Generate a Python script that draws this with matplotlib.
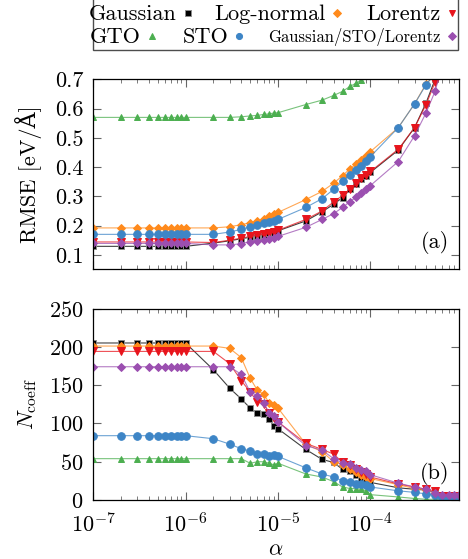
"""Fitting error and coefficient count versus regularisation alpha."""

import matplotlib
matplotlib.use("Agg")
import matplotlib.pyplot as plt
from matplotlib.lines import Line2D
from matplotlib.patches import Rectangle
from matplotlib.ticker import LogLocator, NullFormatter

plt.rcParams["font.family"] = ["cmr10", "DejaVu Serif"]
plt.rcParams["mathtext.fontset"] = "cm"
plt.rcParams["axes.formatter.use_mathtext"] = True
plt.rcParams["font.size"] = 16

W, H = 468, 559

# regularisation parameter
alpha = [1e-7, 2e-7, 3e-7, 4e-7, 5e-7, 6e-7, 7e-7, 8e-7, 9e-7,
         1e-6, 2e-6, 3e-6, 4e-6, 5e-6, 6e-6, 7e-6, 8e-6, 9e-6,
         1e-5, 2e-5, 3e-5, 4e-5, 5e-5, 6e-5, 7e-5, 8e-5, 9e-5,
         1e-4, 2e-4, 3e-4, 4e-4, 5e-4, 6e-4, 7e-4, 8e-4, 9e-4]

# (a) RMSE [eV/A]
rmse_gauss = [0.129] * 10 + [0.140, 0.148, 0.155, 0.160, 0.165, 0.168, 0.173, 0.176,
                             0.182, 0.216, 0.247, 0.273, 0.296, 0.324, 0.343, 0.360,
                             0.371, 0.382, 0.458, 0.535, 0.620, 0.700, 0.780]
rmse_lognorm = [0.192] * 10 + [0.192, 0.196, 0.203, 0.210, 0.215, 0.224, 0.232, 0.239,
                               0.245, 0.289, 0.317, 0.345, 0.371, 0.394, 0.411, 0.424,
                               0.437, 0.453, 0.535, 0.616, 0.685, 0.715]
rmse_lorentz = [0.144] * 10 + [0.142, 0.150, 0.157, 0.163, 0.167, 0.170, 0.175, 0.178,
                               0.184, 0.221, 0.250, 0.281, 0.303, 0.326, 0.346, 0.362,
                               0.374, 0.385, 0.461, 0.535, 0.614, 0.690, 0.770]
rmse_gto = [0.570] * 10 + [0.570, 0.570, 0.572, 0.575, 0.577, 0.580, 0.582, 0.585,
                           0.586, 0.614, 0.629, 0.645, 0.659, 0.676, 0.687, 0.698, 0.712]
rmse_sto = [0.170] * 10 + [0.170, 0.178, 0.187, 0.196, 0.203, 0.208, 0.212, 0.216,
                           0.221, 0.262, 0.292, 0.324, 0.351, 0.374, 0.390, 0.405,
                           0.422, 0.436, 0.535, 0.616, 0.682, 0.720]
rmse_mixed = [0.139] * 10 + [0.134, 0.134, 0.138, 0.145, 0.148, 0.151, 0.154, 0.158,
                             0.163, 0.194, 0.221, 0.241, 0.262, 0.282, 0.297, 0.311,
                             0.325, 0.337, 0.419, 0.507, 0.586, 0.659, 0.750]

# (b) number of coefficients
ncoef_gauss = [205] * 10 + [170, 146, 132, 120, 113, 112, 106, 96, 93, 66, 53, 49, 40, 38,
                            33, 27, 26, 23, 16, 14, 13, 10, 2, 2, 2, 2]
ncoef_lognorm = [201] * 10 + [201, 198, 186, 159, 143, 138, 127, 124, 120, 73, 63, 50, 46,
                              41, 37, 33, 30, 28, 20, 15, 13, 9, 4, 4, 4, 4]
ncoef_lorentz = [194] * 10 + [194, 178, 156, 141, 128, 126, 113, 107, 102, 74, 66, 60, 49,
                              46, 41, 37, 34, 30, 21, 17, 14, 12, 5, 5, 5, 5]
ncoef_gto = [54] * 10 + [54, 54, 54, 48, 50, 50, 48, 46, 48, 34, 30, 24, 17, 15, 15, 14,
                         12, 7, 4, 2, 1, 1, 1, 1, 1, 1]
ncoef_sto = [84] * 10 + [80, 73, 67, 64, 60, 60, 57, 59, 57, 42, 34, 30, 25, 24, 21, 21,
                         20, 17, 12, 10, 8, 6, 2, 2, 2, 2]
ncoef_mixed = [174] * 10 + [174, 174, 164, 141, 136, 127, 114, 110, 102, 71, 65, 54, 48,
                            47, 42, 39, 38, 33, 22, 17, 14, 9, 6, 6, 6, 6]

labels = ["Gaussian", "Log-normal", "Lorentz", "GTO", "STO", "Gaussian/STO/Lorentz"]
colors = ["black", "#ff8a1c", "#e8141c", "#4caf50", "#3d85c6", "#9b4fb0"]
markers = ["s", "D", "v", "^", "o", "D"]
msizes = [5, 4.5, 5.5, 5, 5.5, 4.5]

rmse = [rmse_gauss, rmse_lognorm, rmse_lorentz, rmse_gto, rmse_sto, rmse_mixed]
ncoef = [ncoef_gauss, ncoef_lognorm, ncoef_lorentz, ncoef_gto, ncoef_sto, ncoef_mixed]

fig = plt.figure(figsize=(W / 100, H / 100), dpi=100)
ax_a = fig.add_axes([0.199, 0.518, 0.781, 0.340])
ax_b = fig.add_axes([0.199, 0.1055, 0.781, 0.3426])


def marker_style(i, scale=1.0):
    edge = "0.55" if i == 0 else colors[i]
    return dict(color=colors[i], marker=markers[i], markersize=msizes[i] * scale,
                markeredgecolor=edge, markeredgewidth=0.7, linestyle="none")


for i in range(len(labels)):
    ya = rmse[i]
    for ax, xs, ys in ((ax_a, alpha[:len(ya)], ya), (ax_b, alpha, ncoef[i])):
        ax.plot(xs, ys, color=colors[i], linewidth=0.8, alpha=0.75)
        ax.plot(xs, ys, **marker_style(i))

for ax in (ax_a, ax_b):
    ax.set_xscale("log")
    ax.set_xlim(1e-7, 9e-4)
    ax.xaxis.set_major_locator(LogLocator(base=10, numticks=10))
    ax.xaxis.set_minor_locator(LogLocator(base=10, subs=range(2, 10), numticks=20))
    ax.xaxis.set_minor_formatter(NullFormatter())
    ax.tick_params(which="both", direction="in", top=True, right=True, color="0.4")
    ax.tick_params(which="major", length=6, pad=7)
    ax.tick_params(which="minor", length=3)
    for s in ax.spines.values():
        s.set_linewidth(0.9)

ax_a.set_ylim(0.05, 0.7)
ax_a.set_yticks([0.1, 0.2, 0.3, 0.4, 0.5, 0.6, 0.7])
ax_a.set_yticklabels(["0.1", "0.2", "0.3", "0.4", "0.5", "0.6", "0.7"])
ax_a.tick_params(labelbottom=False)
ax_a.set_ylabel("RMSE [eV/Å]", labelpad=9)
ax_a.text(0.935, 0.14, "(a)", transform=ax_a.transAxes, ha="center", va="center")

ax_b.set_ylim(0, 250)
ax_b.set_yticks([0, 50, 100, 150, 200, 250])
ax_b.tick_params(axis="x", which="major", pad=9)
ax_b.set_ylabel(r"$N_\mathrm{coeff}$", labelpad=7)
ax_b.set_xlabel(r"$\alpha$", labelpad=2)
ax_b.text(0.935, 0.14, "(b)", transform=ax_b.transAxes, ha="center", va="center")

# legend box in gnuplot style: text right-aligned, sample marker after it
fig.add_artist(Rectangle((93 / W, 1 - 50 / H), 365 / W, 53 / H, transform=fig.transFigure,
                         facecolor="white", edgecolor="0.3", linewidth=1.0))
legend_marker_x = [188, 337, 452, 152, 239, 452]
legend_row_y = [13, 13, 13, 36, 36, 36]
legend_fontsize = [16, 16, 16, 16, 16, 12]
for i in range(len(labels)):
    mx, my = legend_marker_x[i], legend_row_y[i]
    fig.text((mx - 11) / W, 1 - (my + 1) / H, labels[i], ha="right", va="center",
             fontsize=legend_fontsize[i])
    fig.add_artist(Line2D([mx / W], [1 - my / H], transform=fig.transFigure,
                          **marker_style(i, 0.8)))

fig.savefig("out.png", dpi=100)
plt.close(fig)
